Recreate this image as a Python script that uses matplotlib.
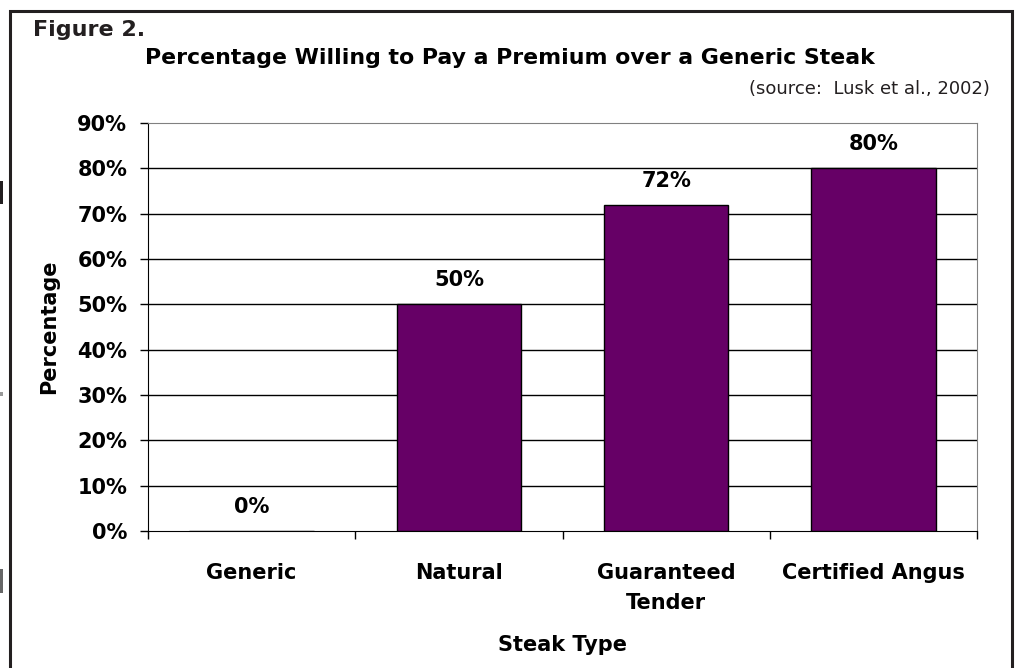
import matplotlib
matplotlib.use("Agg")
import matplotlib.pyplot as plt
import matplotlib.ticker as ticker
from matplotlib.patches import Rectangle
import numpy as np

categories = ["Generic", "Natural", "Guaranteed\nTender", "Certified Angus"]
percent_values = [0, 50, 72, 80]
y_ticks = [0, 10, 20, 30, 40, 50, 60, 70, 80, 90]

W, H = 1018, 668
fig = plt.figure(figsize=(W / 100, H / 100), dpi=100)
axis = fig.add_axes([148 / W, 1 - 531 / H, (977 - 148) / W, (531 - 123) / H])

x_values = np.arange(len(categories))
bars = axis.bar(x_values, percent_values, width=0.6, color="#660066",
                edgecolor="black", linewidth=1, zorder=3)

for bar, value in zip(bars, percent_values):
    axis.annotate(f"{value}%", (bar.get_x() + bar.get_width() / 2, value),
                  xytext=(0, 10), textcoords="offset points",
                  ha="center", va="bottom", fontsize=15, fontweight="bold")

axis.set_xlim(-0.5, len(categories) - 0.5)
axis.set_ylim(0, 90)
axis.set_yticks(y_ticks)
axis.yaxis.set_major_formatter(ticker.FuncFormatter(lambda v, p: f"{v:.0f}%"))
for tick in y_ticks[1:-1]:
    axis.axhline(tick, color="black", lw=1, zorder=1)

axis.set_xticks(x_values)
axis.set_xticklabels(categories)
axis.set_xticks(np.arange(len(categories) + 1) - 0.5, minor=True)
axis.tick_params(axis="x", which="major", length=0, pad=23, labelsize=15)
axis.tick_params(axis="x", which="minor", length=6, width=1, direction="out")
axis.tick_params(axis="y", length=6, width=1, direction="out", pad=9, labelsize=15)
for label in axis.get_xticklabels() + axis.get_yticklabels():
    label.set_fontweight("bold")
    label.set_linespacing(1.6)

axis.spines["top"].set_color("#808080")
axis.spines["right"].set_color("#808080")
axis.spines["left"].set_color("black")
axis.spines["bottom"].set_color("black")

axis.set_ylabel("Percentage", fontsize=15, fontweight="bold", labelpad=13)
axis.set_xlabel("Steak Type", fontsize=15, fontweight="bold")
axis.xaxis.set_label_coords(0.5, (531 - 635) / (531 - 123))

fig.text(33 / W, 1 - 36 / H, "Figure 2.", fontsize=16, fontweight="bold",
         ha="left", va="baseline", color="#231f20")
fig.text(510 / W, 1 - 64 / H, "Percentage Willing to Pay a Premium over a Generic Steak",
         fontsize=15.8, fontweight="bold", ha="center", va="baseline")
fig.text(990 / W, 1 - 89 / H, "(source:  Lusk et al., 2002)", fontsize=13,
         ha="right", va="center", color="#231f20")

# outer frame of the figure panel
fig.patches.append(Rectangle((9.5 / W, -0.05), (1012 - 9.5) / W, 1.05 - 11 / H,
                             transform=fig.transFigure, fill=False,
                             edgecolor="#231f20", linewidth=2.2))
# bits of page text cut off at the left edge
for y0, y1, shade in [(181, 204, "#231f20"), (392, 396, "#999999"), (569, 593, "#666666")]:
    fig.patches.append(Rectangle((0, 1 - y1 / H), 3 / W, (y1 - y0) / H,
                                 transform=fig.transFigure, color=shade, lw=0))

fig.savefig("out.png", dpi=100)
plt.close(fig)
